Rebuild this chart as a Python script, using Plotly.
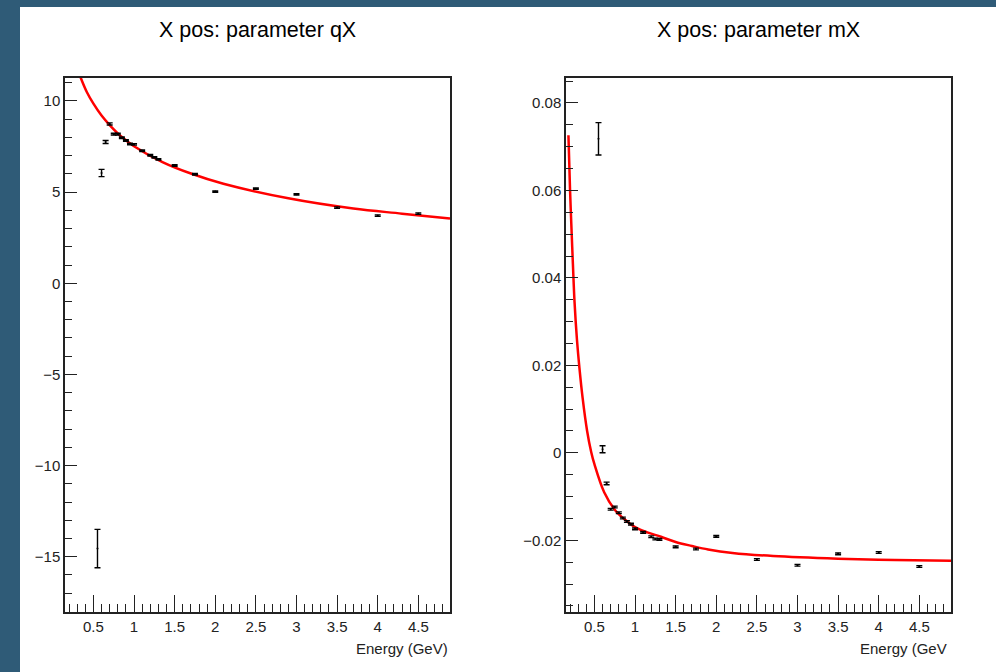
import plotly.graph_objects as go

# ---- measured data -------------------------------------------------------
energy = [0.55, 0.6, 0.65, 0.7, 0.75, 0.8, 0.85, 0.9, 0.95, 1.0, 1.1,
          1.2, 1.25, 1.3, 1.5, 1.75, 2.0, 2.5, 3.0, 3.5, 4.0, 4.5]

qx = [-14.55, 6.05, 7.75, 8.74, 8.18, 8.18, 7.98, 7.83, 7.64, 7.62, 7.27,
      7.02, 6.91, 6.80, 6.46, 5.98, 5.03, 5.19, 4.88, 4.15, 3.71, 3.82]
qx_err = [1.05, 0.20, 0.08, 0.06, 0.05, 0.05, 0.04, 0.04, 0.04, 0.04, 0.04,
          0.04, 0.04, 0.04, 0.04, 0.04, 0.04, 0.04, 0.04, 0.04, 0.04, 0.04]

mx = [0.0718, 0.0008, -0.0070, -0.0129, -0.0124, -0.0137, -0.0149, -0.0157,
      -0.0163, -0.0174, -0.0182, -0.0192, -0.0197, -0.0198, -0.0215, -0.0220,
      -0.0191, -0.0244, -0.0257, -0.0231, -0.0228, -0.0260]
mx_err = [0.0037, 0.0008, 0.0003, 0.0002, 0.0002, 0.0002, 0.0002, 0.0002,
          0.0002, 0.0002, 0.0002, 0.0002, 0.0002, 0.0002, 0.0002, 0.0002,
          0.0002, 0.0002, 0.0002, 0.0002, 0.0002, 0.0002]

# ---- fitted curves (sampled) ---------------------------------------------
fit_q_e = [0.33, 0.35, 0.42, 0.5, 0.6, 0.7, 0.85, 1.0, 1.35, 1.7, 2.1,
           2.9, 3.7, 4.3, 4.89]
fit_q_v = [11.42, 11.2, 10.48, 9.85, 9.2, 8.68, 8.02, 7.52, 6.65, 6.02, 5.46,
           4.66, 4.1, 3.82, 3.55]

fit_m_e = [0.18, 0.2, 0.215, 0.235, 0.255, 0.285, 0.315, 0.355, 0.41, 0.46,
           0.5, 0.62, 0.75, 0.87, 1.0, 1.15, 1.32, 1.5, 1.7, 1.9, 2.2, 2.7,
           3.5, 4.2, 4.89]
fit_m_v = [0.0726, 0.0600, 0.0525, 0.0432, 0.0345, 0.0258, 0.0195, 0.0125,
           0.0050, 0.0002, -0.0026, -0.0090, -0.0130, -0.0152, -0.0170,
           -0.0182, -0.0192, -0.0204, -0.0213, -0.0221, -0.0229, -0.0236,
           -0.0242, -0.0245, -0.0247]

titles = ["X pos: parameter qX", "X pos: parameter mX"]
x_titles = ["Energy (GeV)", "Energy (GeV"]

# ---- geometry helpers ----------------------------------------------------
W, H = 996, 672


def px_x(v):
    return v / W


def px_y(v):
    return 1 - v / H


FONT = "Liberation Sans, Arial, sans-serif"
AXIS_COL = "#222222"

fig = go.Figure()

# fit curves
fig.add_trace(go.Scatter(x=fit_q_e, y=fit_q_v, mode="lines",
                         line=dict(color="#ff0000", width=2.5, shape="spline"),
                         xaxis="x", yaxis="y", showlegend=False,
                         hoverinfo="skip"))
fig.add_trace(go.Scatter(x=fit_m_e, y=fit_m_v, mode="lines",
                         line=dict(color="#ff0000", width=2.5, shape="spline"),
                         xaxis="x2", yaxis="y2", showlegend=False,
                         hoverinfo="skip"))

# data points with error bars
err_style = dict(type="data", visible=True, color="black", thickness=1.4,
                 width=3)
fig.add_trace(go.Scatter(x=energy, y=qx, mode="markers",
                         marker=dict(color="black", size=2),
                         error_y=dict(array=qx_err, **err_style),
                         xaxis="x", yaxis="y", showlegend=False))
fig.add_trace(go.Scatter(x=energy, y=mx, mode="markers",
                         marker=dict(color="black", size=2),
                         error_y=dict(array=mx_err, **err_style),
                         xaxis="x2", yaxis="y2", showlegend=False))

tickfont = dict(family=FONT, size=15, color=AXIS_COL)


def x_axis(domain, anchor):
    return dict(domain=domain, anchor=anchor, range=[0.15, 4.89],
                dtick=0.5, tick0=0, ticks="inside", ticklen=17, tickwidth=1,
                tickcolor=AXIS_COL, showgrid=False, zeroline=False,
                showline=True, linecolor=AXIS_COL, linewidth=1.5,
                mirror=True, tickfont=tickfont,
                minor=dict(dtick=0.1, tick0=0, ticks="inside", ticklen=8,
                           tickwidth=1, tickcolor=AXIS_COL, showgrid=False))


def y_axis(domain, anchor, rng, dtick, minor_dtick):
    return dict(domain=domain, anchor=anchor, range=rng, dtick=dtick,
                tick0=0, ticks="inside", ticklen=12, tickwidth=1,
                tickcolor=AXIS_COL, showgrid=False, zeroline=False,
                showline=True, linecolor=AXIS_COL, linewidth=1.5,
                mirror=True, tickfont=tickfont,
                minor=dict(dtick=minor_dtick, tick0=0, ticks="inside",
                           ticklen=7, tickwidth=1, tickcolor=AXIS_COL,
                           showgrid=False))


y_dom = [px_y(612), px_y(78)]
left_dom = [px_x(65), px_x(450)]
right_dom = [px_x(566), px_x(951)]

annotations = [
    dict(text=titles[0], x=px_x(257.5), y=px_y(30), xref="paper",
         yref="paper", showarrow=False, xanchor="center", yanchor="middle",
         font=dict(family=FONT, size=21.5, color="black")),
    dict(text=titles[1], x=px_x(758.5), y=px_y(30), xref="paper",
         yref="paper", showarrow=False, xanchor="center", yanchor="middle",
         font=dict(family=FONT, size=21.5, color="black")),
    dict(text=x_titles[0], x=px_x(450), y=px_y(648), xref="paper",
         yref="paper", showarrow=False, xanchor="right", yanchor="middle",
         font=dict(family=FONT, size=15, color=AXIS_COL)),
    dict(text=x_titles[1], x=px_x(949), y=px_y(648), xref="paper",
         yref="paper", showarrow=False, xanchor="right", yanchor="middle",
         font=dict(family=FONT, size=15, color=AXIS_COL)),
]

shapes = [
    dict(type="rect", xref="paper", yref="paper", x0=0, x1=px_x(20),
         y0=0, y1=1, fillcolor="#2f5b77", line=dict(width=0), layer="below"),
    dict(type="rect", xref="paper", yref="paper", x0=0, x1=1,
         y0=px_y(7), y1=1, fillcolor="#2f5b77", line=dict(width=0),
         layer="below"),
]

fig.update_layout(
    width=W, height=H, autosize=False,
    margin=dict(l=0, r=0, t=0, b=0, pad=0),
    paper_bgcolor="white", plot_bgcolor="white",
    xaxis=x_axis(left_dom, "y"),
    yaxis=y_axis(y_dom, "x", [-18.03, 11.26], 5, 1),
    xaxis2=x_axis(right_dom, "y2"),
    yaxis2=y_axis(y_dom, "x2", [-0.0364, 0.0857], 0.02, 0.005),
    annotations=annotations,
    shapes=shapes,
    showlegend=False,
)

fig.write_html("out.html")
